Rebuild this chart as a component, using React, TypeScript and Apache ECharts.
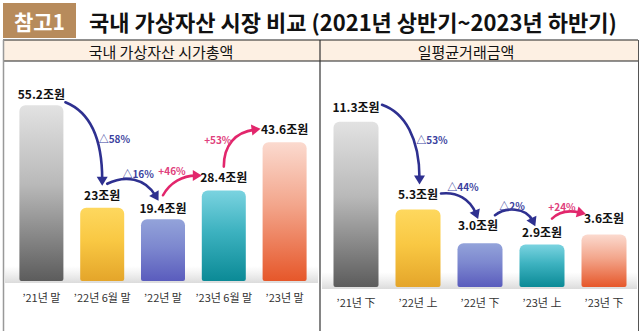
import React, { useEffect, useRef } from "react";
import * as echarts from "echarts";

const leftCategories = ["’21년 말", "’22년 6월 말", "’22년 말", "’23년 6월 말", "’23년 말"];
const leftValues = [55.2, 23, 19.4, 28.4, 43.6];
const leftValueText = ["55.2조원", "23조원", "19.4조원", "28.4조원", "43.6조원"];
const leftChanges = ["△58%", "△16%", "+46%", "+53%"];

const rightCategories = ["’21년 下", "’22년 上", "’22년 下", "’23년 上", "’23년 下"];
const rightValues = [11.3, 5.3, 3.0, 2.9, 3.6];
const rightValueText = ["11.3조원", "5.3조원", "3.0조원", "2.9조원", "3.6조원"];
const rightChanges = ["△53%", "△44%", "△2%", "+24%"];

const titleText = "국내 가상자산 시장 비교 (2021년 상반기~2023년 하반기)";
const tagText = "참고1";
const leftHeader = "국내 가상자산 시가총액";
const rightHeader = "일평균거래금액";

// styling (not data)
const barGradients = [
  ["#e2e2e2", "#b9b9b9", "#5c5c5c"],
  ["#fed85e", "#f9c843", "#e4a52a"],
  ["#93a3da", "#7d88cf", "#5a5cbd"],
  ["#7ad3e0", "#3db2c0", "#0b8a96"],
  ["#fbdacf", "#f3a68c", "#e6572a"],
];
const leftLabelDist = [6, 7, 6, 8, 8];
const rightLabelDist = [9, 10, 13, 7, 11];
const rightLabelDx = [0, 0, -2, 0, 0];

// arrow geometry offsets: s = start rel. to from-bar top, e = end rel. to to-bar top,
// c1 rel. to start, c2 rel. to end, t = text rel. to start
const leftArrowGeo = [
  { s: [24, -3], c1: [25, 10], c2: [0, -43], e: [0, -25], t: [49, 36] },
  { s: [5, -24], c1: [18, -9], c2: [-12, -20], e: [-6, -21], t: [31, -10] },
  { s: [0, -24], c1: [7, -13], c2: [-16, 0], e: [-25, -15], t: [9, -25] },
  { s: [0, -24], c1: [0, -22], c2: [-22, 3], e: [-27, -13], t: [-6, -27] },
];
const rightArrowGeo = [
  { s: [26, -17], c1: [23, 8], c2: [0, -43], e: [1.5, -28], t: [50, 35] },
  { s: [23, -16], c1: [16, -2], c2: [-7, -17], e: [-3, -27], t: [22, -7] },
  { s: [15, -28], c1: [10, -8], c2: [-8, -17], e: [-8, -21], t: [17, -10] },
  { s: [10, -26], c1: [8, -8], c2: [-12, -3], e: [-21, -21], t: [10, -12] },
];

const NAVY = "#2e3090";
const PINK = "#e2266c";
const FONT = "'Noto Sans CJK KR', 'Noto Sans', sans-serif";

function grad(c: string[]) {
  return new echarts.graphic.LinearGradient(0, 0, 0, 1, [
    { offset: 0, color: c[0] },
    { offset: 0.45, color: c[1] },
    { offset: 1, color: c[2] },
  ]);
}

function arrowRenderer(values: number[], changes: string[], geo: any[]) {
  return (params: any, api: any) => {
    const i = params.dataIndex;
    const g = geo[i];
    const a = api.coord([i, values[i]]);
    const b = api.coord([i + 1, values[i + 1]]);
    const p0 = [a[0] + g.s[0], a[1] + g.s[1]];
    const p3 = [b[0] + g.e[0], b[1] + g.e[1]];
    const p1 = [p0[0] + g.c1[0], p0[1] + g.c1[1]];
    const p2 = [p3[0] + g.c2[0], p3[1] + g.c2[1]];
    const color = changes[i].startsWith("+") ? PINK : NAVY;
    let dx = p3[0] - p2[0];
    let dy = p3[1] - p2[1];
    const len = Math.sqrt(dx * dx + dy * dy) || 1;
    dx /= len;
    dy /= len;
    const hl = 9;
    const hw = 5.5;
    const tip = [p3[0] + dx * 3, p3[1] + dy * 3];
    const base = [tip[0] - dx * hl, tip[1] - dy * hl];
    const nx = -dy;
    const ny = dx;
    return {
      type: "group",
      children: [
        {
          type: "bezierCurve",
          shape: {
            x1: p0[0], y1: p0[1],
            cpx1: p1[0], cpy1: p1[1],
            cpx2: p2[0], cpy2: p2[1],
            x2: p3[0] - dx * 3, y2: p3[1] - dy * 3,
          },
          style: { stroke: color, lineWidth: 2.6, fill: "none", lineCap: "round" },
        },
        {
          type: "polygon",
          shape: {
            points: [
              tip,
              [base[0] + nx * hw, base[1] + ny * hw],
              [base[0] - nx * hw, base[1] - ny * hw],
            ],
          },
          style: { fill: color },
        },
        {
          type: "text",
          style: {
            text: changes[i],
            x: p0[0] + g.t[0],
            y: p0[1] + g.t[1],
            fill: color === PINK ? "#e0407c" : "#3b3f9e",
            font: `bold 10px ${FONT}`,
            align: "center",
            verticalAlign: "middle",
          },
        },
      ],
    };
  };
}

export default function App() {
  const ref = useRef<HTMLDivElement>(null);

  useEffect(() => {
    if (!ref.current) return;
    const chart = echarts.init(ref.current, null, { renderer: "svg" });

    const barData = (vals: number[]) =>
      vals.map((v, i) => ({
        value: v,
        itemStyle: { color: grad(barGradients[i]), borderRadius: [6, 6, 2, 2] },
      }));

    const valueLabel = (texts: string[]) => ({
      show: true,
      position: "top",
      color: "#111",
      fontSize: 12,
      fontWeight: "bold",
      fontFamily: FONT,
      formatter: (p: any) => texts[p.dataIndex],
    });

    const option: any = {
      animation: false,
      backgroundColor: "#ffffff",
      textStyle: { fontFamily: FONT },
      grid: [
        { left: 11, width: 304, top: 90, height: 191 },
        { left: 325, width: 310, top: 97, height: 190 },
      ],
      xAxis: [
        {
          type: "category",
          gridIndex: 0,
          data: leftCategories,
          axisLine: { show: false },
          axisTick: { show: false },
          axisLabel: { color: "#333", fontSize: 11, margin: 10, interval: 0, fontFamily: FONT },
        },
        {
          type: "category",
          gridIndex: 1,
          data: rightCategories,
          axisLine: { show: false },
          axisTick: { show: false },
          axisLabel: { color: "#333", fontSize: 11, margin: 9, interval: 0, fontFamily: FONT },
        },
      ],
      yAxis: [
        { type: "value", gridIndex: 0, min: 0, max: 60, show: false },
        { type: "value", gridIndex: 1, min: 0, max: 13, show: false },
      ],
      graphic: [
        // header
        { type: "rect", shape: { x: 3, y: 3, width: 73, height: 35 }, style: { fill: "#b78b5c" } },
        {
          type: "text",
          style: {
            text: tagText, x: 39.5, y: 21, fill: "#ffffff",
            font: `bold 21px ${FONT}`, align: "center", verticalAlign: "middle",
          },
        },
        {
          type: "text",
          style: {
            text: titleText, x: 89, y: 21, fill: "#111111",
            font: `bold 22px ${FONT}`, align: "left", verticalAlign: "middle",
          },
        },
        { type: "rect", shape: { x: 3, y: 40, width: 635, height: 21 }, style: { fill: "#fdf0e3" } },
        {
          type: "text",
          style: {
            text: leftHeader, x: 161, y: 51, fill: "#111",
            font: `15px ${FONT}`, align: "center", verticalAlign: "middle",
          },
        },
        {
          type: "text",
          style: {
            text: rightHeader, x: 466, y: 51, fill: "#111",
            font: `15px ${FONT}`, align: "center", verticalAlign: "middle",
          },
        },
        // floor shadows
        {
          type: "rect", z: 0,
          shape: { x: 5, y: 266, width: 313, height: 17 },
          style: {
            fill: new echarts.graphic.LinearGradient(0, 0, 0, 1, [
              { offset: 0, color: "rgba(225,225,225,0)" },
              { offset: 1, color: "rgba(215,215,215,0.9)" },
            ]),
          },
        },
        {
          type: "rect", z: 0,
          shape: { x: 322, y: 272, width: 315, height: 17 },
          style: {
            fill: new echarts.graphic.LinearGradient(0, 0, 0, 1, [
              { offset: 0, color: "rgba(225,225,225,0)" },
              { offset: 1, color: "rgba(215,215,215,0.9)" },
            ]),
          },
        },
        // frame lines
        { type: "line", shape: { x1: 3, y1: 40, x2: 638, y2: 40 }, style: { stroke: "#222", lineWidth: 1.2 } },
        { type: "line", shape: { x1: 3, y1: 61, x2: 638, y2: 61 }, style: { stroke: "#222", lineWidth: 1.2 } },
        { type: "line", shape: { x1: 320, y1: 40, x2: 320, y2: 331 }, style: { stroke: "#333", lineWidth: 1.2 } },
        { type: "line", shape: { x1: 3.5, y1: 40, x2: 3.5, y2: 331 }, style: { stroke: "#999", lineWidth: 1.5 } },
        { type: "line", shape: { x1: 638.5, y1: 40, x2: 638.5, y2: 331 }, style: { stroke: "#555", lineWidth: 1 } },
      ],
      series: [
        {
          type: "bar",
          xAxisIndex: 0,
          yAxisIndex: 0,
          barWidth: 44,
          z: 3,
          data: barData(leftValues).map((d, i) => ({
            ...d,
            label: { distance: leftLabelDist[i] },
          })),
          label: valueLabel(leftValueText),
        },
        {
          type: "bar",
          xAxisIndex: 1,
          yAxisIndex: 1,
          barWidth: 45,
          z: 3,
          data: barData(rightValues).map((d, i) => ({
            ...d,
            label: { distance: rightLabelDist[i], offset: [rightLabelDx[i], 0] },
          })),
          label: valueLabel(rightValueText),
        },
        {
          type: "custom",
          xAxisIndex: 0,
          yAxisIndex: 0,
          z: 5,
          clip: false,
          silent: true,
          data: leftChanges.map((_, i) => [i, 0]),
          renderItem: arrowRenderer(leftValues, leftChanges, leftArrowGeo),
        },
        {
          type: "custom",
          xAxisIndex: 1,
          yAxisIndex: 1,
          z: 5,
          clip: false,
          silent: true,
          data: rightChanges.map((_, i) => [i, 0]),
          renderItem: arrowRenderer(rightValues, rightChanges, rightArrowGeo),
        },
      ],
    };

    chart.setOption(option);
    return () => chart.dispose();
  }, []);

  return (
    <div
      ref={ref}
      style={{ position: "absolute", left: 0, top: 0, width: 640, height: 331, background: "#fff" }}
    />
  );
}
